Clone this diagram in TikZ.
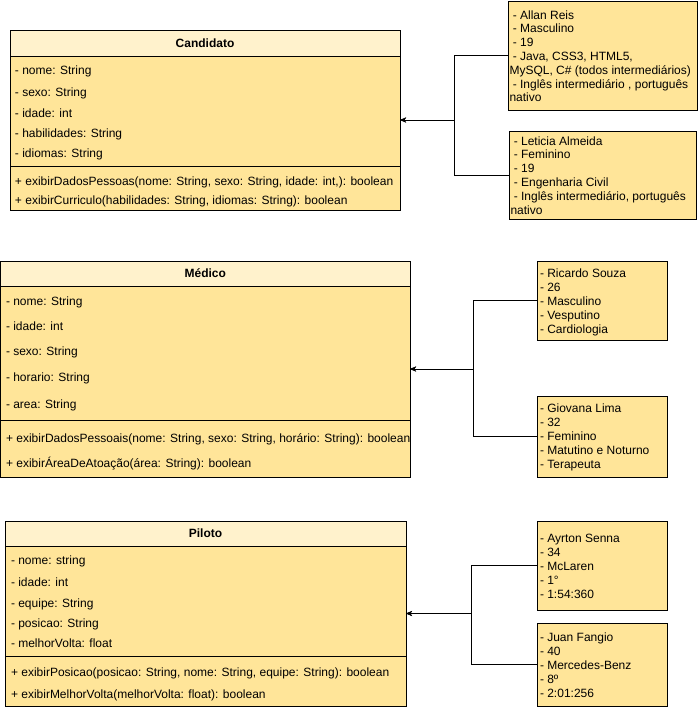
\documentclass[tikz,border=0pt]{standalone}
\usepackage{fontspec}
\setmainfont{Liberation Sans}
\usetikzlibrary{arrows.meta}
\definecolor{headfill}{HTML}{FFF2CC}
\definecolor{bodyfill}{HTML}{FFE599}
\newcommand{\firstline}{\rule{0pt}{9pt}}
\begin{document}
\begin{tikzpicture}[x=1pt,y=-1pt,
  every node/.style={font=\fontsize{12}{13.8}\selectfont, inner sep=0pt, outer sep=0pt},
  classbox/.style={draw, fill=bodyfill, line width=1pt},
  classhead/.style={draw, fill=headfill, line width=1pt, font=\fontsize{12}{13.8}\selectfont\bfseries},
  member/.style={anchor=base west},
  note/.style={draw, fill=bodyfill, line width=1pt},
  notetext/.style={anchor=north west, align=left},
  notetextb/.style={anchor=north west, align=left, font=\fontsize{12}{14}\selectfont},
  sepline/.style={line width=1pt},
  link/.style={line width=1pt, -{Stealth[length=6pt,width=5pt,inset=1.5pt]}}
]
\useasboundingbox (0,0) rectangle (698,710);

% ---------------- Candidato ----------------
\node[classbox, minimum width=390, minimum height=180] (cand) at (205,120) {};
\node[classhead, minimum width=390, minimum height=26] (candh) at (205,43) {Candidato};
\draw[sepline] (10,166) -- (400,166);
\node[member] (c1) at (15,74)  {- nome: String};
\node[member] (c2) at (15,96)  {- sexo: String};
\node[member] (c3) at (15,117) {- idade: int};
\node[member] (c4) at (15,137) {- habilidades: String};
\node[member] (c5) at (15,157) {- idiomas: String};
\node[member] (c6) at (15,185) {+ exibirDadosPessoas(nome: String, sexo: String, idade: int,): boolean};
\node[member] (c7) at (15,204) {+ exibirCurriculo(habilidades: String, idiomas: String): boolean};

\node[note, minimum width=189, minimum height=109] (n1) at (602.5,55.5) {};
\node[notetext] (n1t) at (509.5,10) {\firstline\hspace*{3.3pt}- Allan Reis\\
\hspace*{3.3pt}- Masculino\\
\hspace*{3.3pt}- 19\\
\hspace*{3.3pt}- Java, CSS3, HTML5,\\
MySQL, C\# (todos intermediários)\\
\hspace*{3.3pt}- Inglês intermediário , português\\
nativo};

\node[note, minimum width=187, minimum height=88] (n2) at (602.5,175) {};
\node[notetext] (n2t) at (510.5,136) {\firstline\hspace*{3.3pt}- Leticia Almeida\\
\hspace*{3.3pt}- Feminino\\
\hspace*{3.3pt}- 19\\
\hspace*{3.3pt}- Engenharia Civil\\
\hspace*{3.3pt}- Inglês intermediário, português\\
nativo};

\coordinate (j1) at (454,120);
\draw[link] (n1.west) -- (n1.west -| j1) |- (cand.east);
\draw[link] (n2.west) -- (n2.west -| j1) |- (cand.east);

% ---------------- Medico ----------------
\node[classbox, minimum width=409.5, minimum height=216] (med) at (205.25,369) {};
\node[classhead, minimum width=409.5, minimum height=25] (medh) at (205.25,273.5) {Médico};
\draw[sepline] (0.5,420) -- (410,420);
\node[member] (m1) at (6,305) {- nome: String};
\node[member] (m2) at (6,330) {- idade: int};
\node[member] (m3) at (6,355) {- sexo: String};
\node[member] (m4) at (6,381) {- horario: String};
\node[member] (m5) at (6,408) {- area: String};
\node[member] (m6) at (6,442) {+ exibirDadosPessoais(nome: String, sexo: String, horário: String): boolean};
\node[member] (m7) at (6,467) {+ exibirÁreaDeAtoação(área: String): boolean};

\node[note, minimum width=130, minimum height=79] (n3) at (602,300.5) {};
\node[notetextb] (n3t) at (540,268) {\firstline- Ricardo Souza\\- 26\\- Masculino\\- Vesputino\\- Cardiologia};
\node[note, minimum width=130, minimum height=81] (n4) at (602,436.5) {};
\node[notetextb] (n4t) at (540,403) {\firstline- Giovana Lima\\- 32\\- Feminino\\- Matutino e Noturno\\- Terapeuta};

\coordinate (j2) at (473,369);
\draw[link] (n3.west) -- (n3.west -| j2) |- (med.east);
\draw[link] (n4.west) -- (n4.west -| j2) |- (med.east);

% ---------------- Piloto ----------------
\node[classbox, minimum width=401, minimum height=185] (pil) at (205.5,613.5) {};
\node[classhead, minimum width=401, minimum height=25] (pilh) at (205.5,533.5) {Piloto};
\draw[sepline] (5,656) -- (406,656);
\node[member] (p1) at (11,564) {- nome: string};
\node[member] (p2) at (11,586) {- idade: int};
\node[member] (p3) at (11,607) {- equipe: String};
\node[member] (p4) at (11,627) {- posicao: String};
\node[member] (p5) at (11,647) {- melhorVolta: float};
\node[member] (p6) at (11,676) {+ exibirPosicao(posicao: String, nome: String, equipe: String): boolean};
\node[member] (p7) at (11,698) {+ exibirMelhorVolta(melhorVolta: float): boolean};

\node[note, minimum width=130, minimum height=89] (n5) at (602,565.5) {};
\node[notetextb] (n5t) at (540,533) {\firstline- Ayrton Senna\\- 34\\- McLaren\\- 1°\\- 1:54:360};
\node[note, minimum width=130, minimum height=83] (n6) at (602,664.5) {};
\node[notetextb] (n6t) at (540,632) {\firstline- Juan Fangio\\- 40\\- Mercedes-Benz\\- 8º\\- 2:01:256};

\coordinate (j3) at (471,613);
\draw[link] (n5.west) -- (n5.west -| j3) |- (pil.east);
\draw[link] (n6.west) -- (n6.west -| j3) |- (pil.east);
\end{tikzpicture}
\end{document}
